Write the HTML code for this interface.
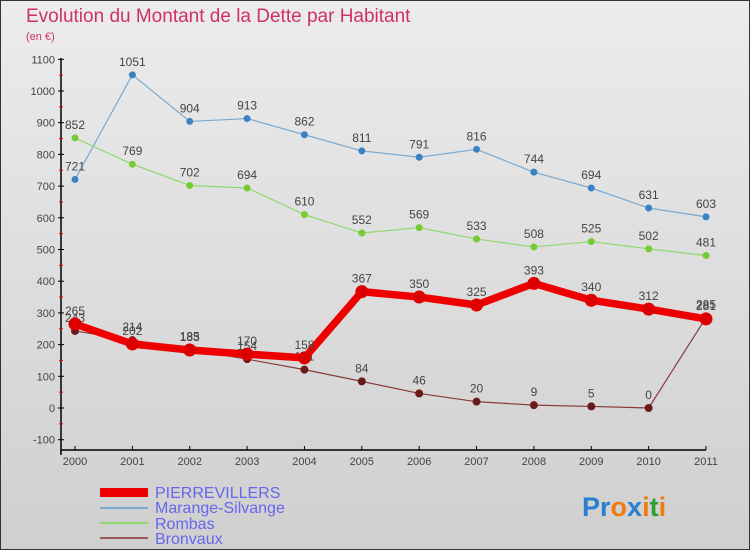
<!DOCTYPE html>
<html><head><meta charset="utf-8"><style>
body{margin:0;width:750px;height:550px;overflow:hidden;font-family:"Liberation Sans",sans-serif}
</style></head><body>
<svg width="750" height="550" xmlns="http://www.w3.org/2000/svg">
<defs><linearGradient id="bg" x1="0" y1="0" x2="0" y2="1"><stop offset="0" stop-color="#ececec"/><stop offset="1" stop-color="#cfcfcf"/></linearGradient></defs>
<rect x="0.5" y="0.5" width="749" height="549" fill="url(#bg)" stroke="#333"/>
<text x="26" y="22" font-size="19" fill="#d0306a">Evolution du Montant de la Dette par Habitant</text>
<text x="26" y="40" font-size="11" fill="#d0306a">(en €)</text>
<g id="axes"></g><g id="series"></g>
<g>
<rect x="100" y="488" width="48" height="9" fill="#ee0000"/>
<text x="155" y="498" font-size="16" fill="#6666ee">PIERREVILLERS</text>
<line x1="100" y1="508" x2="148" y2="508" stroke="#7aaad0" stroke-width="2"/>
<text x="155" y="513" font-size="16" fill="#6666ee">Marange-Silvange</text>
<line x1="100" y1="523" x2="148" y2="523" stroke="#90d870" stroke-width="2"/>
<text x="155" y="529" font-size="16" fill="#6666ee">Rombas</text>
<line x1="100" y1="538" x2="148" y2="538" stroke="#9a5a5a" stroke-width="2"/>
<text x="155" y="544" font-size="16" fill="#6666ee">Bronvaux</text>
</g>
<text x="582" y="516" font-size="27" font-weight="bold"><tspan fill="#2a7fd0">Pr</tspan><tspan fill="#f07a10">o</tspan><tspan fill="#2a7fd0">x</tspan><tspan fill="#f07a10">i</tspan><tspan fill="#30a030">t</tspan><tspan fill="#f07a10">i</tspan></text>
</svg>
<script>
const years=[2000,2001,2002,2003,2004,2005,2006,2007,2008,2009,2010,2011];
const yTicks=[-100,0,100,200,300,400,500,600,700,800,900,1000,1100];
const marange=[721,1051,904,913,862,811,791,816,744,694,631,603];
const rombas=[852,769,702,694,610,552,569,533,508,525,502,481];
const bronvaux=[243,214,185,154,121,84,46,20,9,5,0,285];
const pierre=[265,202,183,170,158,367,350,325,393,340,312,281];
const NS="http://www.w3.org/2000/svg";
const X=i=>75+i*(706-75)/11;
const Y=v=>408-v*0.317;
function el(t,a,p){const e=document.createElementNS(NS,t);for(const k in a)e.setAttribute(k,a[k]);p.appendChild(e);return e;}
const ax=document.getElementById('axes');
let a=el('line',{x1:61,y1:58,x2:61,y2:455,stroke:'#000','stroke-width':1.5},ax);


a=el('line',{x1:61,y1:450,x2:706,y2:450,stroke:'#000','stroke-width':1.5},ax);


yTicks.forEach(v=>{
 el('line',{x1:58,y1:Y(v),x2:64,y2:Y(v),stroke:'#000'},ax);
 if(v<1100) el('line',{x1:59,y1:Y(v+50),x2:63,y2:Y(v+50),stroke:'#e00'},ax);
 const t=el('text',{x:55,y:Y(v)+4,'font-size':11,fill:'#444','text-anchor':'end'},ax);t.textContent=v;
 
 
});
years.forEach((y,i)=>{
 el('line',{x1:X(i),y1:446,x2:X(i),y2:450,stroke:'#000'},ax);
 const t=el('text',{x:X(i),y:465,'font-size':11,fill:'#444','text-anchor':'middle'},ax);t.textContent=y;
 
 
});
const sg=document.getElementById('series');
function series(name,vals,color,dot,w,r){
 const g=el('g',{},sg);
 
 
 el('polyline',{points:vals.map((v,i)=>X(i)+','+Y(v)).join(' '),fill:'none',stroke:color,'stroke-width':w,'stroke-linejoin':'round'},g);
 vals.forEach((v,i)=>{
  const c=el('circle',{cx:X(i),cy:Y(v),r:r,fill:dot},g);
  
  
  const t=el('text',{x:X(i),y:Y(v)-9,'font-size':12,fill:'#444','text-anchor':'middle'},g);t.textContent=v;
  
  
 });
}
series('marange',marange,'#7aaad0','#3b82c4',1.2,3.5);
series('rombas',rombas,'#90d870','#77cc33',1.2,3.5);
series('bronvaux',bronvaux,'#8a3a3a','#6a1a1a',1.2,4);
series('pierrevillers',pierre,'#ee0000','#dd0000',7.5,6.5);
</script>
</body></html>
